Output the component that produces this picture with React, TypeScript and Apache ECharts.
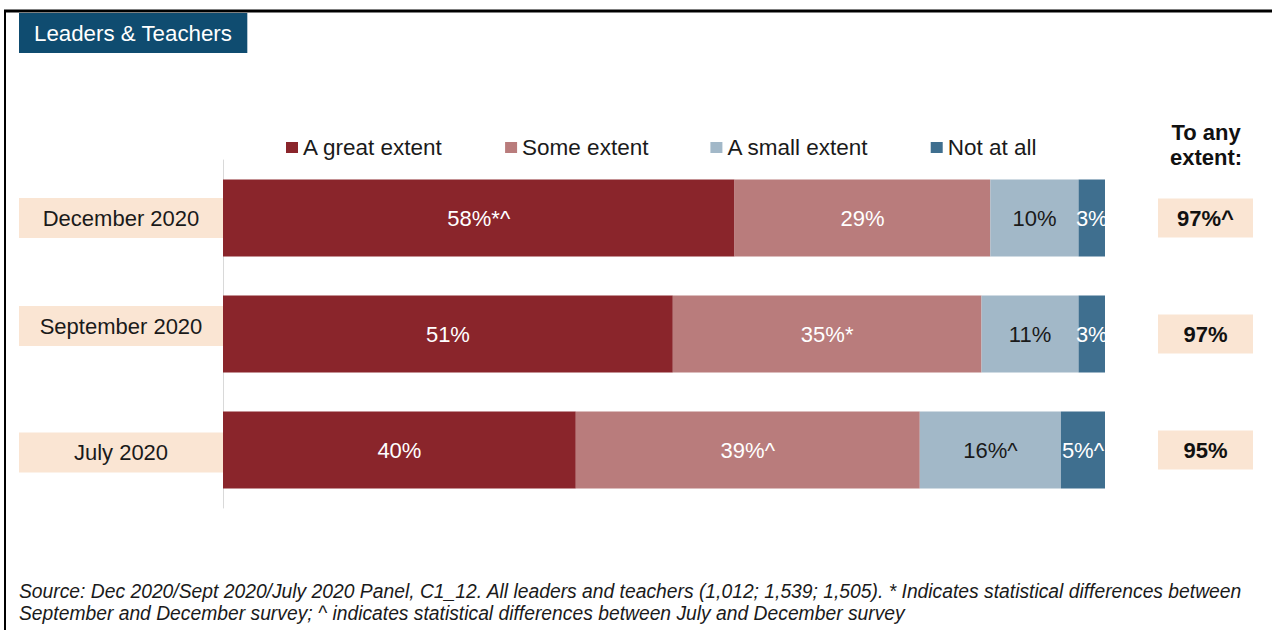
import React, { useEffect, useRef } from "react";
import * as echarts from "echarts";

const categories = ["December 2020", "September 2020", "July 2020"];
const seriesNames = ["A great extent", "Some extent", "A small extent", "Not at all"];
const greatExtent = [58, 51, 40];
const greatMarks = ["*^", "", ""];
const someExtent = [29, 35, 39];
const someMarks = ["", "*", "^"];
const smallExtent = [10, 11, 16];
const smallMarks = ["", "", "^"];
const notAtAll = [3, 3, 5];
const notMarks = ["", "", "^"];
const anyExtent = [97, 97, 95];
const anyMarks = ["^", "", ""];

const FONT = "'Liberation Sans', Arial, sans-serif";
const colors = ["#8A252B", "#B97C7C", "#A2B8C8", "#3F6F8F"];
const labelColors = ["#ffffff", "#ffffff", "#1a1a1a", "#ffffff"];

export default function App() {
  const ref = useRef<HTMLDivElement>(null);
  useEffect(() => {
    document.body.style.margin = "0";
    const chart = echarts.init(ref.current!, null, { renderer: "svg" });
    const values = [greatExtent, someExtent, smallExtent, notAtAll];
    const marks = [greatMarks, someMarks, smallMarks, notMarks];
    const series = values.map((vals, si) => ({
      type: "bar",
      name: seriesNames[si],
      stack: "total",
      barWidth: 77,
      data: vals,
      itemStyle: { color: colors[si] },
      label: {
        show: true,
        position: "inside",
        color: labelColors[si],
        fontSize: 22,
        fontFamily: FONT,
        formatter: (p: any) => p.value + "%" + marks[si][p.dataIndex],
      },
    }));
    const catFormatter = (v: string, i: number) => {
      if (i === 1) return "{box|" + v + "}\n{gapA| }";
      if (i === 2) return "{gapB| }\n{box|" + v + "}";
      return "{box|" + v + "}";
    };
    chart.setOption({
      animation: false,
      textStyle: { fontFamily: FONT },
      title: [
        {
          text: "Leaders & Teachers",
          left: 19,
          top: 13,
          backgroundColor: "#0F4C70",
          padding: [9, 15],
          textStyle: { color: "#ffffff", fontSize: 22.3, fontWeight: "normal", lineHeight: 22, fontFamily: FONT },
        },
      ],
      legend: {
        left: 286,
        top: 136,
        padding: 0,
        itemWidth: 12,
        itemHeight: 11,
        itemGap: 62,
        itemTextGap: 5,
        icon: "rect",
        data: seriesNames,
        textStyle: { fontSize: 22.5, color: "#1a1a1a", fontFamily: FONT },
      },
      grid: { left: 223, right: 167, top: 160, bottom: 122 },
      xAxis: { type: "value", min: 0, max: 100, show: false },
      yAxis: [
        {
          type: "category",
          data: categories,
          inverse: true,
          axisLine: { show: true, lineStyle: { color: "#d9d9d9", width: 1 } },
          axisTick: { show: false },
          axisLabel: {
            margin: 0,
            formatter: catFormatter,
            rich: {
              box: {
                width: 204,
                height: 40,
                lineHeight: 40,
                align: "center",
                backgroundColor: "#FAE5D3",
                fontSize: 22,
                color: "#1a1a1a",
                fontFamily: FONT,
              },
              gapA: { height: 16, lineHeight: 16, fontSize: 1 },
              gapB: { height: 5, lineHeight: 5, fontSize: 1 },
            },
          },
        },
        {
          type: "category",
          position: "right",
          inverse: true,
          data: anyExtent.map((v, i) => v + "%" + anyMarks[i]),
          axisLine: { show: false },
          axisTick: { show: false },
          axisLabel: {
            margin: 53,
            formatter: (v: string) => "{box|" + v + "}",
            rich: {
              box: {
                width: 95,
                height: 39,
                lineHeight: 39,
                align: "center",
                backgroundColor: "#FAE5D3",
                fontSize: 22,
                fontWeight: "bold",
                color: "#111111",
                fontFamily: FONT,
              },
            },
          },
        },
      ],
      series,
      graphic: [
        { type: "line", shape: { x1: 4, y1: 11, x2: 1272, y2: 11 }, style: { stroke: "#000", lineWidth: 3 } },
        { type: "line", shape: { x1: 5, y1: 10, x2: 5, y2: 630 }, style: { stroke: "#000", lineWidth: 2 } },
        {
          type: "text",
          x: 1206,
          y: 120,
          style: {
            text: "To any\nextent:",
            textAlign: "center",
            textVerticalAlign: "top",
            fontSize: 22,
            fontWeight: "bold",
            lineHeight: 25,
            fill: "#111111",
            fontFamily: FONT,
          },
        },
        {
          type: "text",
          x: 19,
          y: 580,
          style: {
            text:
              "Source: Dec 2020/Sept 2020/July 2020 Panel, C1_12. All leaders and teachers (1,012; 1,539; 1,505). * Indicates statistical differences between\nSeptember and December survey; ^ indicates statistical differences between July and December survey",
            textVerticalAlign: "top",
            fontSize: 19.3,
            fontStyle: "italic",
            lineHeight: 22,
            fill: "#1a1a1a",
            fontFamily: FONT,
          },
        },
      ],
    });
    return () => chart.dispose();
  }, []);
  return <div ref={ref} style={{ width: 1272, height: 630 }} />;
}
